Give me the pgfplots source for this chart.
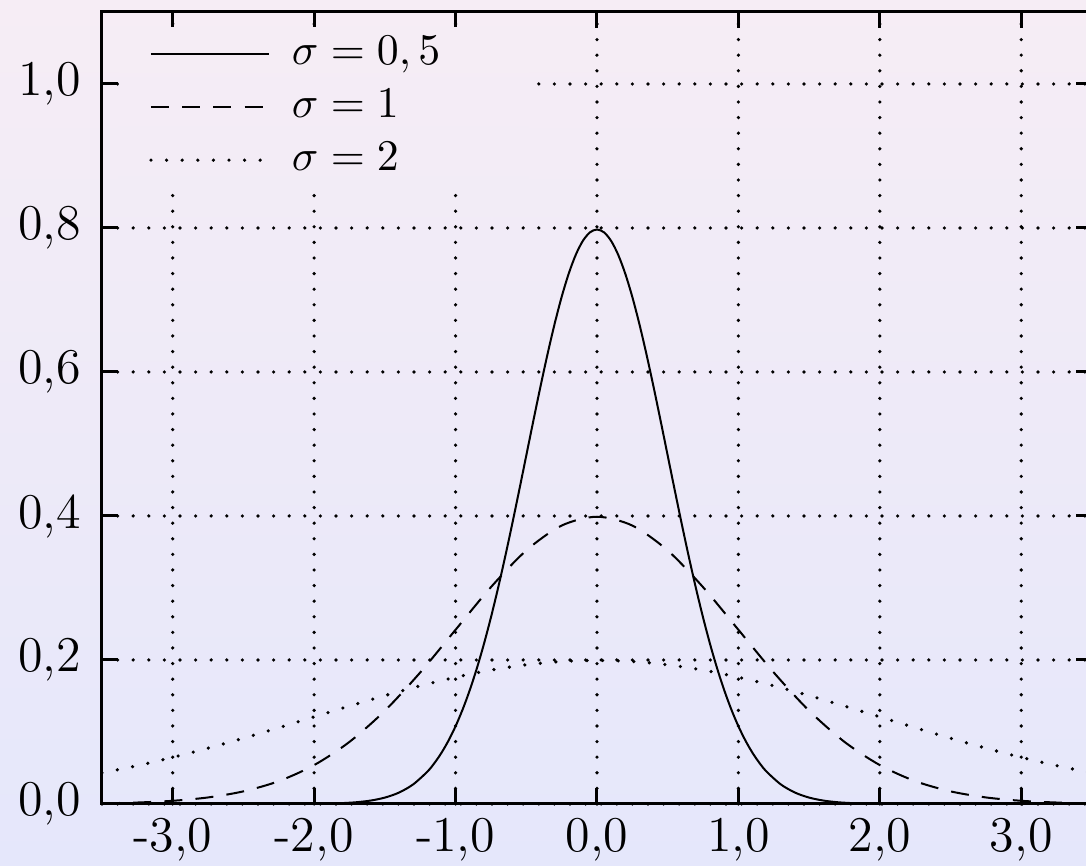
\documentclass[border=0pt]{standalone}
\usepackage{pgfplots}
\pgfplotsset{compat=1.18}
\usepackage{xcolor}

\definecolor{bgtop}{RGB}{246,237,245}
\definecolor{bgbot}{RGB}{229,231,251}

\pgfplotsset{
  gdot/.style={line width=0.9pt, line cap=round, dash pattern=on 0pt off 3.9pt},
}

\begin{document}
\begin{tikzpicture}
  \shade[top color=bgtop, bottom color=bgbot] (-25.5pt,-15.5pt) rectangle (246pt,201pt);
  \begin{axis}[
      at={(0,0)}, anchor=south west,
      scale only axis,
      width=247.5pt, height=198pt,
      xmin=-3.5, xmax=3.5,
      ymin=0, ymax=1.1,
      xtick={-3,-2,-1,0,1,2,3},
      xticklabels={{-3,0},{-2,0},{-1,0},{0,0},{1,0},{2,0},{3,0}},
      ytick={0,0.2,0.4,0.6,0.8,1.0},
      yticklabels={{0,0},{0,2},{0,4},{0,6},{0,8},{1,0}},
      tick align=inside,
      major tick length=4pt,
      every tick/.style={black, line width=0.75pt},
      axis line style={line width=0.75pt},
      ticklabel style={font=\fontsize{12.5}{15}\selectfont},
      yticklabel style={xshift=-1.8pt},
      grid=major,
      major grid style={black, gdot},
      legend cell align=left,
      legend image code/.code={\draw[#1] (0pt,0pt) -- (29.5pt,0pt);},
      legend style={
        at={(0,1)}, anchor=north west, xshift=4pt, yshift=-3.6pt,
        draw=none, top color=bgtop!97!bgbot, bottom color=bgtop!78!bgbot,
        font=\fontsize{11}{13}\selectfont,
        inner xsep=7.6pt, inner ysep=2.25pt,
        row sep=4.25pt,
        nodes={inner xsep=0pt, inner ysep=0pt, text height=7pt, text depth=2pt},
        column sep=5.3pt,
      },
    ]
    % sigma = 0.5
    \addplot[black, line width=0.5pt, smooth] coordinates {
      (-3.5,0) (-3.0,0) (-2.5,0.000003) (-2.0,0.00027) (-1.9,0.00058) (-1.8,0.00122)
      (-1.7,0.00246) (-1.6,0.00477) (-1.5,0.00886) (-1.4,0.01583) (-1.3,0.02717)
      (-1.2,0.04479) (-1.15,0.05665) (-1.1,0.07095) (-1.05,0.08797) (-1.0,0.10798)
      (-0.95,0.13123) (-0.9,0.15790) (-0.85,0.18810) (-0.8,0.22184) (-0.75,0.25904)
      (-0.7,0.29946) (-0.65,0.34274) (-0.6,0.38837) (-0.55,0.43570) (-0.5,0.48394)
      (-0.45,0.53217) (-0.4,0.57938) (-0.35,0.62451) (-0.3,0.66645) (-0.25,0.70413)
      (-0.2,0.73654) (-0.15,0.76278) (-0.1,0.78209) (-0.05,0.79391) (0,0.79788)
      (0.05,0.79391) (0.1,0.78209) (0.15,0.76278) (0.2,0.73654) (0.25,0.70413)
      (0.3,0.66645) (0.35,0.62451) (0.4,0.57938) (0.45,0.53217) (0.5,0.48394)
      (0.55,0.43570) (0.6,0.38837) (0.65,0.34274) (0.7,0.29946) (0.75,0.25904)
      (0.8,0.22184) (0.85,0.18810) (0.9,0.15790) (0.95,0.13123) (1.0,0.10798)
      (1.05,0.08797) (1.1,0.07095) (1.15,0.05665) (1.2,0.04479) (1.3,0.02717)
      (1.4,0.01583) (1.5,0.00886) (1.6,0.00477) (1.7,0.00246) (1.8,0.00122)
      (1.9,0.00058) (2.0,0.00027) (2.5,0.000003) (3.0,0) (3.5,0)
    };
    \addlegendentry{\makebox[51.5pt][l]{$\sigma = 0,5$}}
    % sigma = 1
    \addplot[black, line width=0.5pt, dash pattern=on 4.5pt off 3.3pt, smooth] coordinates {
      (-3.5,0.00087) (-3.25,0.00203) (-3.0,0.00443) (-2.75,0.00909) (-2.5,0.01753)
      (-2.25,0.03174) (-2.0,0.05399) (-1.75,0.08628) (-1.5,0.12952) (-1.25,0.18265)
      (-1.0,0.24197) (-0.75,0.30114) (-0.5,0.35207) (-0.25,0.38667) (0,0.39894)
      (0.25,0.38667) (0.5,0.35207) (0.75,0.30114) (1.0,0.24197) (1.25,0.18265)
      (1.5,0.12952) (1.75,0.08628) (2.0,0.05399) (2.25,0.03174) (2.5,0.01753)
      (2.75,0.00909) (3.0,0.00443) (3.25,0.00203) (3.5,0.00087)
    };
    \addlegendentry{$\sigma = 1$}
    % sigma = 2
    \addplot[black, gdot, smooth] coordinates {
      (-3.5,0.04314) (-3.25,0.05327) (-3.0,0.06476) (-2.75,0.07751) (-2.5,0.09132)
      (-2.25,0.10594) (-2.0,0.12099) (-1.75,0.13603) (-1.5,0.15057) (-1.25,0.16408)
      (-1.0,0.17603) (-0.75,0.18593) (-0.5,0.19333) (-0.25,0.19792) (0,0.19947)
      (0.25,0.19792) (0.5,0.19333) (0.75,0.18593) (1.0,0.17603) (1.25,0.16408)
      (1.5,0.15057) (1.75,0.13603) (2.0,0.12099) (2.25,0.10594) (2.5,0.09132)
      (2.75,0.07751) (3.0,0.06476) (3.25,0.05327) (3.5,0.04314)
    };
    \addlegendentry{$\sigma = 2$}
  \end{axis}
  \pgfresetboundingbox
  \useasboundingbox (-25.5pt,-15.5pt) rectangle (246pt,201pt);
\end{tikzpicture}
\end{document}
